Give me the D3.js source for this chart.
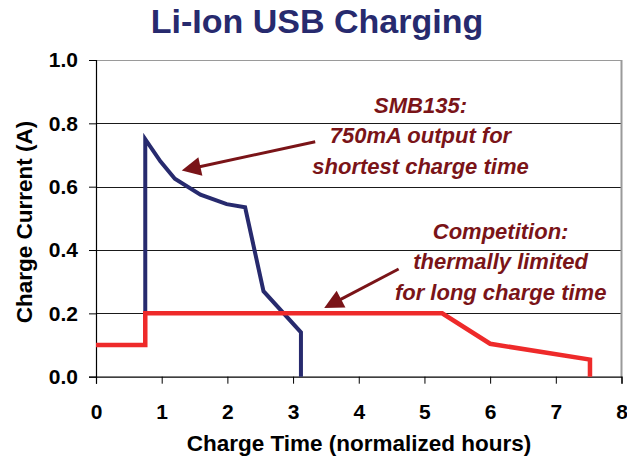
<!DOCTYPE html>
<html>
<head>
<meta charset="utf-8">
<script src="https://cdn.jsdelivr.net/npm/d3@7"></script>
<style>
  html, body { margin: 0; padding: 0; background: #fff; }
  svg { display: block; font-family: "Liberation Sans", Arial, Helvetica, sans-serif; }
</style>
</head>
<body>
<svg id="chart" width="627" height="458"></svg>
<script>
// ---- data ----
const titleText = "Li-Ion USB Charging";
const xLabel = "Charge Time (normalized hours)";
const yLabel = "Charge Current (A)";
const xTicks = [0, 1, 2, 3, 4, 5, 6, 7, 8];
const yTicks = [0.0, 0.2, 0.4, 0.6, 0.8, 1.0];

const smbTime    = [0.75, 0.75, 0.98, 1.20, 1.59, 1.99, 2.27, 2.55, 3.12, 3.12];
const smbCurrent = [0.20, 0.75, 0.68, 0.625, 0.575, 0.545, 0.535, 0.27, 0.14, 0.0];

const compTime    = [0, 0.75, 0.75, 5.27, 6.00, 7.52, 7.52];
const compCurrent = [0.10, 0.10, 0.20, 0.20, 0.104, 0.054, 0.0];

const note1Lines = ["SMB135:", "750mA output for", "shortest charge time"];
const note2Lines = ["Competition:", "thermally limited", "for long charge time"];
// annotation anchors in data units
const note1Anchor = [4.94, 0.833];
const note2Anchor = [6.16, 0.435];
const arrow1 = [[3.337, 0.742], [1.306, 0.651]];
const arrow2 = [[4.607, 0.340], [3.474, 0.217]];

// ---- drawing ----
const svg = d3.select("#chart");
const x = d3.scaleLinear().domain([0, 8]).range([96, 621.5]);
const y = d3.scaleLinear().domain([0, 1]).range([376.7, 60]);

const navy = "#272a6e";
const red = "#ee2a2a";
const darkRed = "#7a1418";

// title
svg.append("text")
  .attr("x", 317).attr("y", 33)
  .attr("text-anchor", "middle")
  .attr("font-size", 34).attr("font-weight", "bold")
  .attr("fill", navy)
  .text(titleText);

// gridlines
svg.append("g").selectAll("line")
  .data(yTicks.filter(d => d > 0))
  .join("line")
  .attr("x1", x(0)).attr("x2", x(8))
  .attr("y1", d => Math.round(y(d)) + 0.5).attr("y2", d => Math.round(y(d)) + 0.5)
  .attr("stroke", d => d === 1 ? "#9a9a9a" : "#1a1a1a")
  .attr("stroke-width", 1);

// right border
svg.append("line")
  .attr("x1", x(8)).attr("x2", x(8))
  .attr("y1", y(1)).attr("y2", y(0))
  .attr("stroke", "#9a9a9a").attr("stroke-width", 2);

// axes
const yAxis = d3.axisLeft(y).tickValues(yTicks).tickFormat(d3.format(".1f")).tickSize(7).tickPadding(11);
const gy = svg.append("g").attr("transform", `translate(${x(0)},0)`).call(yAxis);
gy.select(".domain").attr("stroke", "#000").attr("stroke-width", 1.2);
gy.selectAll(".tick line").attr("stroke", "#000");
gy.selectAll(".tick text").attr("font-size", 21).attr("font-weight", "bold").attr("fill", "#000")
  .attr("font-family", "Liberation Sans, Arial, sans-serif");

const xAxis = d3.axisBottom(x).tickValues(xTicks).tickFormat(d3.format("d")).tickSize(7).tickPadding(20);
const gx = svg.append("g").attr("transform", `translate(0,${y(0)})`).call(xAxis);
gx.select(".domain").attr("stroke", "#000").attr("stroke-width", 1.2);
gx.selectAll(".tick line").attr("stroke", "#000");
gx.selectAll(".tick text").attr("font-size", 21).attr("font-weight", "bold").attr("fill", "#000")
  .attr("font-family", "Liberation Sans, Arial, sans-serif");

// axis titles
svg.append("text")
  .attr("x", 359).attr("y", 451)
  .attr("text-anchor", "middle")
  .attr("font-size", 22.5).attr("font-weight", "bold").attr("fill", "#000")
  .text(xLabel);
svg.append("text")
  .attr("transform", "translate(32,222) rotate(-90)")
  .attr("text-anchor", "middle")
  .attr("font-size", 22.5).attr("font-weight", "bold").attr("fill", "#000")
  .text(yLabel);

// series
const line = d3.line().x(d => x(d[0])).y(d => y(d[1]));
svg.append("path")
  .datum(d3.zip(smbTime, smbCurrent))
  .attr("d", line)
  .attr("fill", "none").attr("stroke", navy)
  .attr("stroke-width", 4).attr("stroke-linejoin", "miter");
svg.append("path")
  .datum(d3.zip(compTime, compCurrent))
  .attr("d", line)
  .attr("fill", "none").attr("stroke", red)
  .attr("stroke-width", 4.5).attr("stroke-linejoin", "miter");

// annotations
function note(lines, anchor) {
  const t = svg.append("text")
    .attr("text-anchor", "middle")
    .attr("font-size", 22).attr("font-weight", "bold").attr("font-style", "italic")
    .attr("fill", darkRed);
  lines.forEach((s, i) => {
    t.append("tspan").attr("x", x(anchor[0])).attr("y", y(anchor[1]) + i * 30.5).text(s);
  });
}
note(note1Lines, note1Anchor);
note(note2Lines, note2Anchor);

function arrow(a) {
  const [x0, y0] = [x(a[0][0]), y(a[0][1])];
  const [x1, y1] = [x(a[1][0]), y(a[1][1])];
  const dx = x1 - x0, dy = y1 - y0, len = Math.hypot(dx, dy);
  const ux = dx / len, uy = dy / len;
  const headLen = 19, headW = 9.5;
  const bx = x1 - ux * headLen, by = y1 - uy * headLen;
  svg.append("line")
    .attr("x1", x0).attr("y1", y0).attr("x2", bx + ux * 2).attr("y2", by + uy * 2)
    .attr("stroke", darkRed).attr("stroke-width", 3);
  svg.append("path")
    .attr("d", `M${x1},${y1}L${bx - uy * headW},${by + ux * headW}L${bx + uy * headW},${by - ux * headW}Z`)
    .attr("fill", darkRed);
}
arrow(arrow1);
arrow(arrow2);
</script>
</body>
</html>
